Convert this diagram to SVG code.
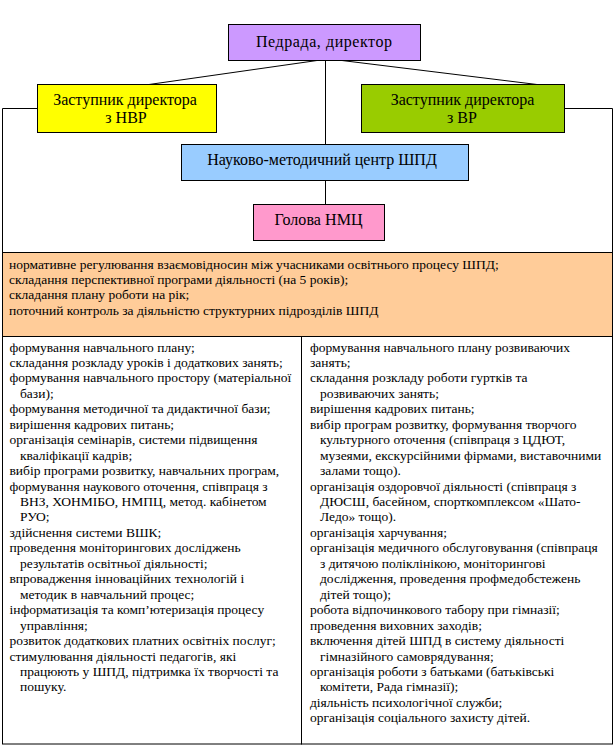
<svg xmlns="http://www.w3.org/2000/svg" width="614" height="745" viewBox="0 0 614 745">
<style>
.box{stroke:#000;stroke-width:1}
.t{font-family:'Liberation Serif','Times New Roman',serif;font-size:16px;fill:#000;text-anchor:middle}
.s{font-family:'Liberation Serif','Times New Roman',serif;font-size:13.5px;fill:#000}
.ln{stroke:#000;stroke-width:1;fill:none}
</style>
<rect width="614" height="745" fill="#fff"/>
<g id="connectors">
<line class="ln" x1="317" y1="60.5" x2="149" y2="84.5"/>
<line class="ln" x1="342" y1="60.5" x2="537" y2="84.5"/>
<line class="ln" x1="325.5" y1="60.5" x2="325.5" y2="144.5"/>
<line class="ln" x1="325.5" y1="180.5" x2="325.5" y2="204.5"/>
<polyline class="ln" points="37,108.5 2.5,108.5 2.5,252.5"/>
<polyline class="ln" points="565,108.5 612.5,108.5 612.5,252.5"/>
</g>
<g id="pedrada">
<rect class="box" x="228.5" y="24.5" width="192" height="36" fill="#CC99FF"/>
<text class="t" x="324" y="46.5" textLength="136" lengthAdjust="spacing">Педрада, директор</text>
</g>
<g id="zast-nvr">
<rect class="box" x="37.5" y="84.5" width="179" height="48" fill="#FFFF00"/>
<text class="t" x="125" y="104.5">Заступник директора</text>
<text class="t" x="126" y="122.5">з НВР</text>
</g>
<g id="zast-vr">
<rect class="box" x="361.5" y="84.5" width="203" height="48" fill="#99CC00"/>
<text class="t" x="462.5" y="104.5">Заступник директора</text>
<text class="t" x="462" y="122.5">з ВР</text>
</g>
<g id="nmc">
<rect class="box" x="181.5" y="144.5" width="287" height="36" fill="#99CCFF"/>
<text class="t" x="322" y="164.5">Науково-методичний центр ШПД</text>
</g>
<g id="holova">
<rect class="box" x="253.5" y="204.5" width="131" height="36" fill="#FF99CC"/>
<text class="t" x="318.5" y="225" textLength="88" lengthAdjust="spacing">Голова НМЦ</text>
</g>
<g id="common-tasks">
<rect class="box" x="2.5" y="252.5" width="610" height="84" fill="#FFCC99"/>
<text class="s">
<tspan x="9" y="268.5">нормативне регулювання взаємовідносин між учасниками освітнього процесу ШПД;</tspan>
<tspan x="9" y="284">складання перспективної програми діяльності (на 5 років);</tspan>
<tspan x="9" y="299.4">складання плану роботи на рік;</tspan>
<tspan x="9" y="314.8">поточний контроль за діяльністю структурних підрозділів ШПД</tspan>
</text>
</g>
<g id="nvr-tasks">
<rect class="box" x="2.5" y="336.5" width="299" height="407.5" fill="#fff"/>
<text class="s">
<tspan x="9.5" y="351.5">формування навчального плану;</tspan>
<tspan x="9.5" y="366.95">складання розкладу уроків і додаткових занять;</tspan>
<tspan x="9.5" y="382.4">формування навчального простору (матеріальної</tspan>
<tspan x="20" y="397.85">бази);</tspan>
<tspan x="9.5" y="413.3">формування методичної та дидактичної бази;</tspan>
<tspan x="9.5" y="428.75">вирішення кадрових питань;</tspan>
<tspan x="9.5" y="444.2">організація семінарів, системи підвищення</tspan>
<tspan x="20" y="459.65">кваліфікації кадрів;</tspan>
<tspan x="9.5" y="475.1">вибір програми розвитку, навчальних програм,</tspan>
<tspan x="9.5" y="490.55">формування наукового оточення, співпраця з</tspan>
<tspan x="20" y="506">ВНЗ, ХОНМІБО, НМПЦ, метод. кабінетом</tspan>
<tspan x="20" y="521.45">РУО;</tspan>
<tspan x="9.5" y="536.9">здійснення системи ВШК;</tspan>
<tspan x="9.5" y="552.35">проведення моніторингових досліджень</tspan>
<tspan x="20" y="567.8">результатів освітньої діяльності;</tspan>
<tspan x="9.5" y="583.25">впровадження інноваційних технологій і</tspan>
<tspan x="20" y="598.7">методик в навчальний процес;</tspan>
<tspan x="9.5" y="614.15">інформатизація та комп’ютеризація процесу</tspan>
<tspan x="20" y="629.6">управління;</tspan>
<tspan x="9.5" y="645.05">розвиток додаткових платних освітніх послуг;</tspan>
<tspan x="9.5" y="660.5">стимулювання діяльності педагогів, які</tspan>
<tspan x="20" y="675.95">працюють у ШПД, підтримка їх творчості та</tspan>
<tspan x="20" y="691.4">пошуку.</tspan>
</text>
</g>
<g id="vr-tasks">
<rect class="box" x="301.5" y="336.5" width="311" height="407.5" fill="#fff"/>
<text class="s">
<tspan x="310" y="351.5">формування навчального плану розвиваючих</tspan>
<tspan x="310" y="366.95">занять;</tspan>
<tspan x="310" y="382.4">складання розкладу роботи гуртків та</tspan>
<tspan x="320" y="397.85">розвиваючих занять;</tspan>
<tspan x="310" y="413.3">вирішення кадрових питань;</tspan>
<tspan x="310" y="428.75">вибір програм розвитку, формування творчого</tspan>
<tspan x="320" y="444.2">культурного оточення (співпраця з ЦДЮТ,</tspan>
<tspan x="320" y="459.65">музеями, екскурсійними фірмами, виставочними</tspan>
<tspan x="320" y="475.1">залами тощо).</tspan>
<tspan x="310" y="490.55">організація оздоровчої діяльності (співпраця з</tspan>
<tspan x="320" y="506">ДЮСШ, басейном, спорткомплексом «Шато-</tspan>
<tspan x="320" y="521.45">Ледо» тощо).</tspan>
<tspan x="310" y="536.9">організація харчування;</tspan>
<tspan x="310" y="552.35">організація медичного обслуговування (співпраця</tspan>
<tspan x="320" y="567.8">з дитячою поліклінікою, моніторингові</tspan>
<tspan x="320" y="583.25">дослідження, проведення профмедобстежень</tspan>
<tspan x="320" y="598.7">дітей тощо);</tspan>
<tspan x="310" y="614.15">робота відпочинкового табору при гімназії;</tspan>
<tspan x="310" y="629.6">проведення виховних заходів;</tspan>
<tspan x="310" y="645.05">включення дітей ШПД в систему діяльності</tspan>
<tspan x="320" y="660.5">гімназійного самоврядування;</tspan>
<tspan x="310" y="675.95">організація роботи з батьками (батьківські</tspan>
<tspan x="320" y="691.4">комітети, Рада гімназії);</tspan>
<tspan x="310" y="706.85">діяльність психологічної служби;</tspan>
<tspan x="310" y="722.3">організація соціального захисту дітей.</tspan>
</text>
</g>
</svg>
